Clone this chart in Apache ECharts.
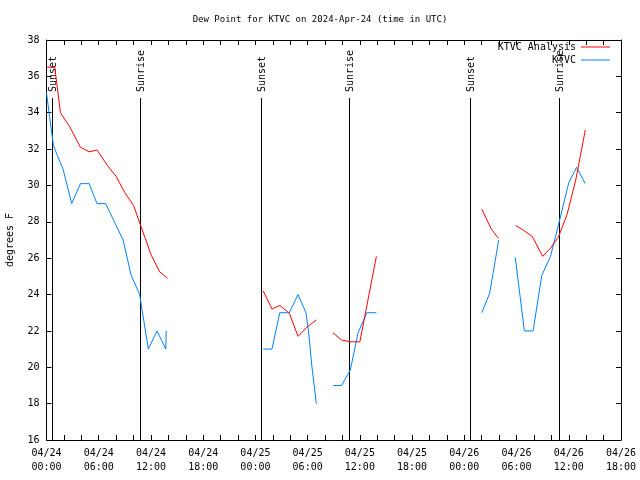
<!DOCTYPE html>
<html>
<head>
<meta charset="utf-8">
<script src="https://cdn.jsdelivr.net/npm/echarts@6/dist/echarts.min.js"></script>
<style>html,body{margin:0;padding:0;background:#fff}#c{width:640px;height:480px}</style>
</head>
<body>
<div id="c"></div>
<script>
// Hours after 2024-04-24 00:00 UTC; null = gap in record
var analysisHours = [0, 0.95, 1.6, 2.7, 3.9, 4.9, 5.8, 7, 8, 9, 10, 11, 12, 13, 13.9, 20,
  24.9, 25.9, 26.8, 27.9, 28.9, 29.9, 31, 32,
  32.9, 33.9, 34.9, 36, 37.9, 44,
  50, 51.1, 51.9, 53,
  53.9, 54.6, 55.8, 57, 57.9, 58.8, 59.8, 60.8, 61.9];
var analysisValues = [36.5, 36.5, 34.0, 33.2, 32.1, 31.85, 31.95, 31.1, 30.5, 29.6, 28.9, 27.55, 26.2, 25.25, 24.9, null,
  24.2, 23.2, 23.4, 22.97, 21.7, 22.2, 22.6, null,
  21.9, 21.5, 21.4, 21.4, 26.1, null,
  28.7, 27.6, 27.1, null,
  27.8, 27.6, 27.2, 26.1, 26.55, 27.15, 28.4, 30.3, 33.05];

var obsHours = [0, 0.35, 0.8, 1.2, 1.9, 2.9, 3.9, 4.9, 5.8, 6.8, 7.8, 8.8, 9.7, 10.7, 11.7, 12.7, 13.7, 13.75, 18,
  24.9, 25.9, 26.8, 27.9, 28.9, 29.8, 30.1, 30.5, 31, 32,
  32.9, 33.9, 34.9, 35.8, 36.8, 37.9, 44,
  50, 50.9, 51.35, 51.95, 53,
  53.85, 54.9, 55.9, 56.9, 57.9, 58.8, 60, 60.9, 61.9];
var obsValues = [35.1, 33.8, 32.2, 31.7, 30.9, 29.0, 30.1, 30.1, 29.0, 29.0, 28.0, 27.0, 25.1, 24.0, 21.0, 22.0, 21.0, 22.0, null,
  21.0, 21.0, 23.0, 23.0, 24.0, 23.0, 22.0, 20.0, 18.0, null,
  19.0, 19.0, 19.85, 21.9, 23.0, 23.0, null,
  23.0, 24.05, 25.3, 27.0, null,
  26.05, 22.0, 22.0, 25.05, 26.1, 27.8, 30.15, 31.0, 30.1];

var eventHours = [0.6, 10.75, 24.62, 34.8, 48.62, 58.85];
var eventNames = ['Sunset', 'Sunrise', 'Sunset', 'Sunrise', 'Sunset', 'Sunrise'];

var xTickHours = [0, 6, 12, 18, 24, 30, 36, 42, 48, 54, 60, 66];
var xTickLabels = ['04/24\n00:00', '04/24\n06:00', '04/24\n12:00', '04/24\n18:00',
  '04/25\n00:00', '04/25\n06:00', '04/25\n12:00', '04/25\n18:00',
  '04/26\n00:00', '04/26\n06:00', '04/26\n12:00', '04/26\n18:00'];

var MONO = '"DejaVu Sans Mono", "Liberation Mono", monospace';

function pairs(xs, ys) {
  return xs.map(function (x, i) { return [x, ys[i] === null ? '-' : ys[i]]; });
}

var chart = echarts.init(document.getElementById('c'), null, {renderer: 'canvas'});

function axisX(pos, showLabel) {
  return {
    type: 'value', position: pos, min: 0, max: 66, interval: 6,
    axisLine: {show: true, onZero: false, lineStyle: {color: '#000', width: 1}},
    axisTick: {show: true, inside: true, length: 5, lineStyle: {color: '#000'}},
    minorTick: {show: true, splitNumber: 3, length: 5, lineStyle: {color: '#000'}},
    splitLine: {show: false},
    axisLabel: {
      show: showLabel, color: '#000', fontFamily: MONO, fontSize: 10, lineHeight: 14, margin: 6,
      hideOverlap: false, showMinLabel: true, showMaxLabel: true,
      formatter: function (v) { var i = xTickHours.indexOf(v); return i >= 0 ? xTickLabels[i] : ''; }
    }
  };
}
function axisY(pos, showLabel) {
  return {
    type: 'value', position: pos, min: 16, max: 38, interval: 2,
    name: showLabel ? 'degrees F' : '', nameLocation: 'middle', nameGap: 31, nameRotate: 90,
    nameTextStyle: {color: '#000', fontFamily: MONO, fontSize: 10},
    axisLine: {show: true, onZero: false, lineStyle: {color: '#000', width: 1}},
    axisTick: {show: true, inside: true, length: 5, lineStyle: {color: '#000'}},
    splitLine: {show: false},
    axisLabel: {show: showLabel, color: '#000', fontFamily: MONO, fontSize: 10, margin: 7}
  };
}

var legendCommon = {
  orient: 'horizontal', align: 'right', icon: 'rect', itemWidth: 29, itemHeight: 1,
  textStyle: {color: '#000', fontFamily: MONO, fontSize: 10}, selectedMode: false
};

chart.setOption({
  animation: false,
  backgroundColor: '#fff',
  title: {
    text: 'Dew Point for KTVC on 2024-Apr-24 (time in UTC)', left: 'center', top: 10,
    textStyle: {color: '#000', fontFamily: MONO, fontSize: 9, fontWeight: 'normal'}
  },
  legend: [
    Object.assign({}, legendCommon, {data: ['KTVC Analysis'], right: 25, top: 37}),
    Object.assign({}, legendCommon, {data: ['KTVC'], right: 25, top: 50})
  ],
  grid: {left: 46.5, right: 19, top: 40, bottom: 40, containLabel: false, outerBoundsMode: 'none'},
  xAxis: [axisX('bottom', true), axisX('top', false)],
  yAxis: [axisY('left', true), axisY('right', false)],
  series: [
    {
      type: 'custom', silent: true, z: 1, xAxisIndex: 0, yAxisIndex: 0,
      data: eventHours.map(function (h) { return [h, 16]; }),
      encode: {x: 0, y: 1},
      renderItem: function (params, api) {
        var bottom = api.coord([api.value(0), 16]);
        var top = api.coord([api.value(0), 38]);
        var x = Math.round(bottom[0]) + 0.5;
        return {
          type: 'group',
          children: [
            {type: 'line', shape: {x1: x, y1: top[1] + 58, x2: x, y2: bottom[1]},
              style: {stroke: '#000', lineWidth: 1}},
            {type: 'text', x: x + 1, y: top[1] + 52, rotation: Math.PI / 2,
              style: {text: eventNames[params.dataIndex], fill: '#000', font: '10px ' + MONO,
                align: 'left', verticalAlign: 'middle'}}
          ]
        };
      }
    },
    {
      name: 'KTVC Analysis', type: 'line', z: 3, xAxisIndex: 0, yAxisIndex: 0,
      data: pairs(analysisHours, analysisValues), showSymbol: false, connectNulls: false,
      lineStyle: {color: '#ff0000', width: 1}, itemStyle: {color: '#ff0000'}
    },
    {
      name: 'KTVC', type: 'line', z: 2, xAxisIndex: 0, yAxisIndex: 0,
      data: pairs(obsHours, obsValues), showSymbol: false, connectNulls: false,
      lineStyle: {color: '#0080ff', width: 1}, itemStyle: {color: '#0080ff'}
    }
  ]
});
</script>
</body>
</html>
